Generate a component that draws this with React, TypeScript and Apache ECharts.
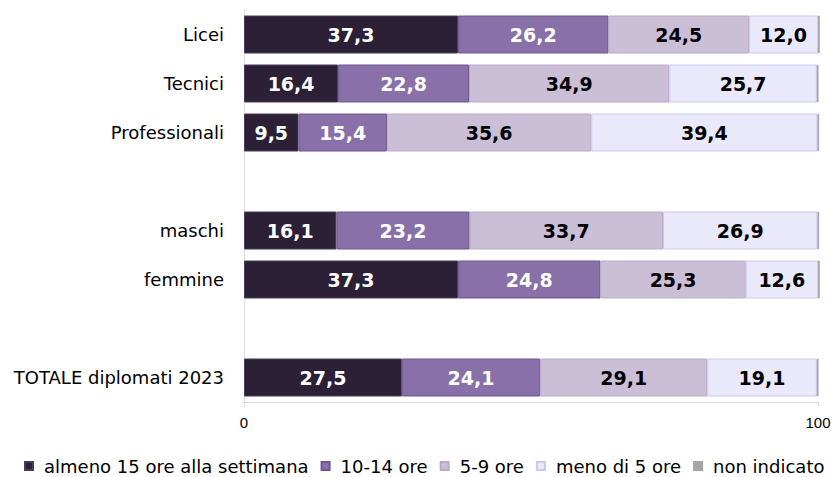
import React, { useEffect, useRef } from "react";
import * as echarts from "echarts";

const categories = ["Licei", "Tecnici", "Professionali", "", "maschi", "femmine", "", "TOTALE diplomati 2023"];
const seriesNames = ["almeno 15 ore alla settimana", "10-14 ore", "5-9 ore", "meno di 5 ore", "non indicato"];
const almeno15 = [37.3, 16.4, 9.5, null, 16.1, 37.3, null, 27.5];
const ore10_14 = [26.2, 22.8, 15.4, null, 23.2, 24.8, null, 24.1];
const ore5_9 = [24.5, 34.9, 35.6, null, 33.7, 25.3, null, 29.1];
const meno5 = [12.0, 25.7, 39.4, null, 26.9, 12.6, null, 19.1];
const nonIndicato = [0.3, 0.3, 0.3, null, 0.3, 0.3, null, 0.3];
const xTicks = [0, 100];

const colors = ["#2b2036", "#8a70a8", "#cbbfd8", "#e9e9fb", "#a6a6a6"];
const borders = ["#4a3a5c", "#6f5690", "#b9abc9", "#c9c9f2", "#a6a6a6"];
const labelColors = ["#ffffff", "#ffffff", "#000000", "#000000", "#000000"];

export default function App() {
  const ref = useRef<HTMLDivElement>(null);
  useEffect(() => {
    if (!ref.current) return;
    const chart = echarts.init(ref.current, null, { renderer: "svg" });
    const dataSets = [almeno15, ore10_14, ore5_9, meno5, nonIndicato];
    chart.setOption({
      animation: false,
      grid: { left: 244, right: 17, top: 10, bottom: 75, containLabel: false },
      legend: {
        left: 19,
        top: 452,
        width: 1200,
        itemWidth: 8,
        itemHeight: 8,
        itemGap: 12,
        icon: "rect",
        textStyle: { fontFamily: "DejaVu Sans", fontSize: 18, color: "#000", padding: [0, 0, 0, 6] },
        data: seriesNames,
      },
      xAxis: {
        type: "value",
        min: 0,
        max: 100,
        interval: 100,
        axisLine: { show: true, lineStyle: { color: "#d9d9d9" } },
        axisTick: { show: true, length: 5, lineStyle: { color: "#d9d9d9" } },
        splitLine: { show: false },
        axisLabel: {
          fontFamily: "Liberation Sans",
          fontSize: 15,
          color: "#000",
          margin: 13,
          customValues: xTicks,
        },
      },
      yAxis: {
        type: "category",
        inverse: true,
        data: categories,
        axisLine: { show: true, lineStyle: { color: "#d9d9d9" } },
        axisTick: { show: false },
        axisLabel: { fontFamily: "DejaVu Sans", fontSize: 18, color: "#000", margin: 20 },
      },
      series: dataSets.map((d, i) => ({
        name: seriesNames[i],
        type: "bar",
        stack: "tot",
        barWidth: 38,
        clip: false,
        data: d,
        itemStyle: { color: colors[i], borderColor: borders[i], borderWidth: 1 },
        label: {
          show: i < 4,
          position: "inside",
          color: labelColors[i],
          fontFamily: "DejaVu Sans",
          fontWeight: "bold",
          fontSize: 19,
          formatter: (p: any) => (p.value == null ? "" : Number(p.value).toFixed(1).replace(".", ",")),
        },
      })),
    });
    return () => chart.dispose();
  }, []);
  return <div ref={ref} style={{ width: 835, height: 477, position: "absolute", left: 0, top: 0 }} />;
}
